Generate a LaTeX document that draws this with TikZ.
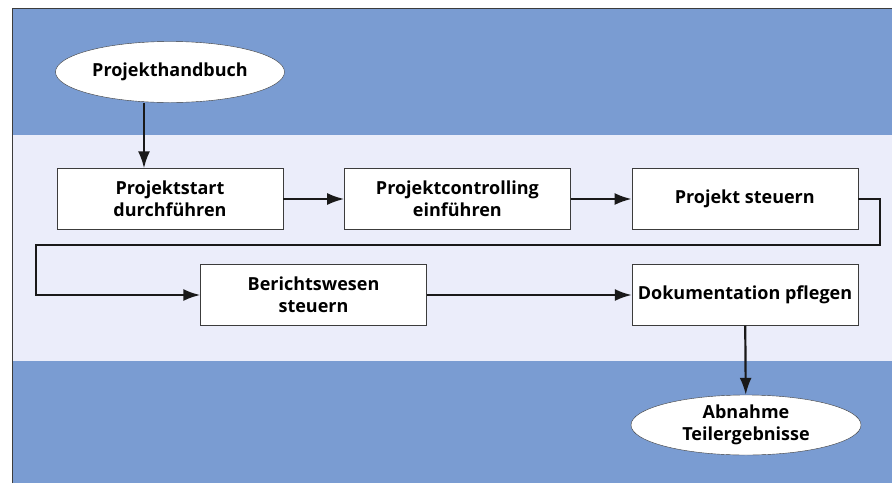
\documentclass[tikz,border=0pt]{standalone}
\usepackage{fontspec}
\setmainfont{Open Sans}
\usetikzlibrary{arrows.meta,positioning,shapes.geometric}
\definecolor{bandblue}{RGB}{122,156,210}
\definecolor{bandlight}{RGB}{235,237,250}
\definecolor{frame}{RGB}{60,60,60}
\tikzset{
  task/.style={draw=frame,fill=white,rectangle,minimum width=226pt,minimum height=61pt,align=center,
    font=\bfseries\fontsize{18}{22}\selectfont},
  docu/.style={draw=frame,fill=white,ellipse,minimum width=229pt,minimum height=61pt,inner sep=0pt,align=center,
    font=\bfseries\fontsize{18}{22}\selectfont},
  flow/.style={-{Latex[length=17pt,width=12pt]},line width=2.2pt,black!90}
}

\begin{document}
\begin{tikzpicture}[x=1pt,y=-1pt,node distance=10pt and 61pt]

\useasboundingbox (0,0) rectangle (892,483);

% bands
\fill[bandblue] (12,8) rectangle (892,135);
\fill[bandlight] (12,135) rectangle (892,361);
\fill[bandblue] (12,361) rectangle (892,483);
\draw[frame,line width=1pt] (12,483) -- (12,8) -- (892,8);

\node[docu] (hb) at (170,72) {Projekthandbuch};

\node[task] (start) at (170,199) {Projektstart\\durchführen};
\node[task,right=of start] (contr) {Projektcontrolling\\einführen};
\node[task,right=of contr] (steuern) {Projekt steuern};

\node[task] (bericht) at (313.5,295) {Berichtswesen\\steuern};
\node[task] (doku) at (745,295) {Dokumentation pflegen};

\node[docu,minimum width=230pt,minimum height=60pt] (abn) at (746,425) {Abnahme\\Teilergebnisse};

\draw[flow] (hb.south -| 144,0) -- (start.north -| 144,0);
\draw[flow] (start) -- (contr);
\draw[flow] (contr) -- (steuern);
\draw[flow] (steuern.east) -- ++(22,0) |- (36,245) |- (bericht.west);
\draw[flow] (bericht) -- (doku);
\draw[flow] (doku) -- (abn);

\end{tikzpicture}
\end{document}
